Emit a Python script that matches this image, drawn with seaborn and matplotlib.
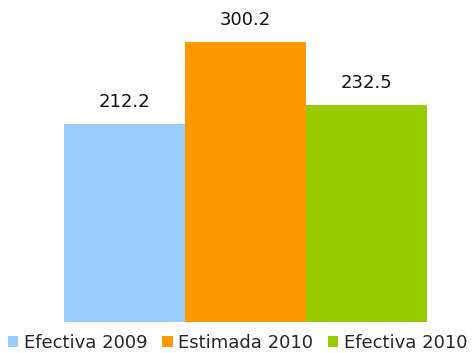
import matplotlib
matplotlib.use("Agg")
import matplotlib.pyplot as plt
import seaborn as sns
from matplotlib.patches import Patch

categories = ["Efectiva 2009", "Estimada 2010", "Efectiva 2010"]
values = [212.2, 300.2, 232.5]
colors = ["#99CCFF", "#FF9900", "#99CC00"]

sns.set_theme(style="white")
plt.rcParams["font.family"] = ["DejaVu Sans"]

fig = plt.figure(figsize=(4.75, 3.53), dpi=100)
ax = fig.add_axes([64 / 475, 31 / 353, (427 - 64) / 475, 322 / 353])

sns.barplot(x=categories, y=values, hue=categories, palette=colors,
            width=1.0, saturation=1, legend=False, linewidth=0, ax=ax)

ax.set_xlim(-0.5, 2.5)
ax.set_ylim(0, 345)
ax.axis("off")

for i, v in enumerate(values):
    ax.annotate(f"{v:.1f}", (i, v), xytext=(0, 9), textcoords="offset points",
                ha="center", va="bottom", fontsize=13, color="#111111")

handles = [Patch(facecolor=c, edgecolor="none") for c in colors]
fig.legend(handles, categories, loc="center", bbox_to_anchor=(0.5, 10 / 353),
           ncol=3, frameon=False, fontsize=13, handlelength=0.6, handleheight=0.6,
           handletextpad=0.3, columnspacing=0.8, borderpad=0.0)

fig.savefig("out.png", dpi=100)
